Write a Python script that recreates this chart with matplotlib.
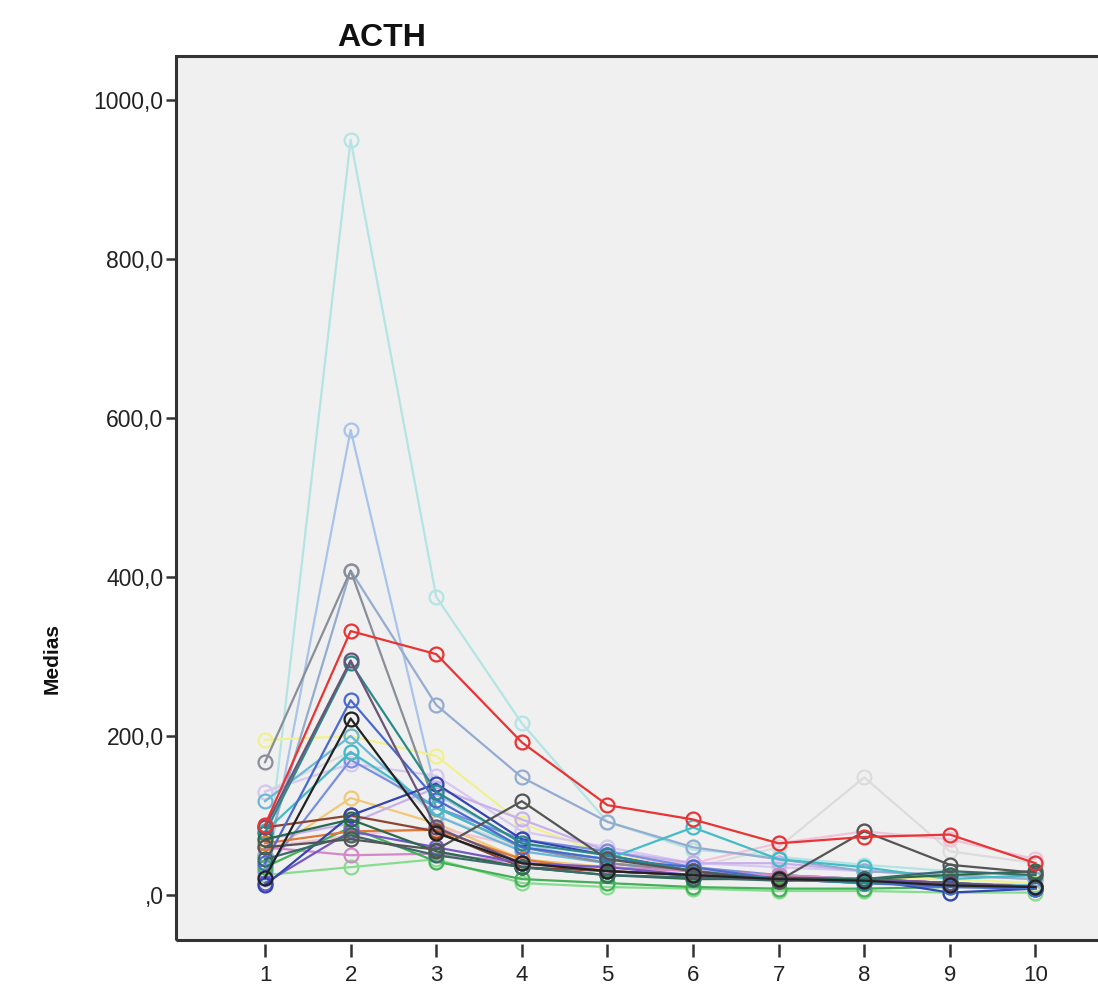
import matplotlib
matplotlib.use("Agg")
import matplotlib.pyplot as plt
from matplotlib.patches import Rectangle

plt.rcParams['font.family'] = ['Liberation Sans', 'DejaVu Sans']

# Time points on the x axis
time_points = [1, 2, 3, 4, 5, 6, 7, 8, 9, 10]
x_tick_labels = ['1', '2', '3', '4', '5', '6', '7', '8', '9', '10']
y_ticks = [0, 200, 400, 600, 800, 1000]
y_tick_labels = [',0', '200,0', '400,0', '600,0', '800,0', '1000,0']

# Mean ACTH per subject at each time point
s_pale_cyan = [15, 950, 375, 216, 92, 57, 48, 38, 30, 25]
s_light_blue = [20, 585, 127, 65, 40, 30, 25, 20, 15, 10]
s_gray = [167, 408, 110, 60, 40, 30, 20, 15, 12, 10]
s_steel = [50, 408, 239, 148, 92, 60, 45, 30, 25, 20]
s_red = [88, 332, 303, 192, 113, 95, 65, 73, 76, 40]
s_plum = [85, 295, 85, 40, 30, 25, 20, 18, 15, 10]
s_teal = [78, 292, 130, 65, 50, 30, 20, 15, 15, 10]
s_blue = [40, 245, 120, 60, 45, 35, 20, 15, 10, 8]
s_black = [22, 222, 78, 40, 30, 25, 20, 18, 12, 10]
s_dark_gray = [60, 70, 57, 118, 45, 30, 18, 80, 38, 28]
s_yellow = [195, 200, 175, 90, 50, 35, 25, 20, 20, 15]
s_apricot = [50, 122, 90, 45, 35, 30, 25, 20, 15, 10]
s_lavender = [130, 165, 150, 80, 60, 40, 35, 30, 25, 20]
s_sky = [118, 200, 100, 55, 40, 30, 25, 20, 15, 12]
s_cornflower = [30, 170, 110, 70, 55, 35, 25, 20, 15, 10]
s_light_green = [25, 35, 45, 15, 10, 8, 5, 5, 3, 3]
s_pink = [60, 50, 52, 40, 35, 30, 25, 20, 15, 10]
s_forest = [70, 95, 55, 35, 25, 20, 20, 20, 25, 30]
s_dark_teal = [45, 75, 50, 35, 25, 22, 18, 20, 30, 25]
s_green = [35, 85, 42, 20, 15, 10, 8, 8, 10, 10]
s_purple = [15, 80, 60, 40, 35, 25, 20, 20, 15, 10]
s_lilac = [70, 90, 135, 95, 55, 40, 40, 30, 25, 20]
s_orange = [65, 80, 82, 45, 30, 25, 20, 18, 15, 10]
s_cyan = [80, 180, 110, 60, 45, 85, 45, 35, 20, 25]
s_silver = [130, 180, 100, 60, 40, 35, 60, 148, 55, 40]
s_brown = [85, 100, 80, 35, 30, 25, 22, 20, 15, 8]
s_rose = [60, 75, 85, 60, 45, 40, 65, 80, 70, 45]
s_indigo = [12, 100, 140, 70, 50, 30, 18, 20, 3, 8]

series = [
    (s_silver, '#dcdcdc'),
    (s_pale_cyan, '#b4e4e4'),
    (s_light_blue, '#a8c4ea'),
    (s_yellow, '#f0f090'),
    (s_apricot, '#f0c878'),
    (s_lavender, '#d8c8f0'),
    (s_rose, '#f0c4d8'),
    (s_lilac, '#c8b0ec'),
    (s_light_green, '#88dc90'),
    (s_sky, '#6cb8d8'),
    (s_cornflower, '#7890e0'),
    (s_steel, '#94acd0'),
    (s_gray, '#8a8e98'),
    (s_pink, '#d488c8'),
    (s_green, '#44b058'),
    (s_cyan, '#44bcc8'),
    (s_orange, '#e07838'),
    (s_brown, '#8c4434'),
    (s_purple, '#7458c8'),
    (s_indigo, '#3444b0'),
    (s_blue, '#4a6ad0'),
    (s_teal, '#2a8a8a'),
    (s_forest, '#2a6a4a'),
    (s_dark_teal, '#3a6a6a'),
    (s_dark_gray, '#555555'),
    (s_plum, '#6a5478'),
    (s_red, '#e83434'),
    (s_black, '#222222'),
]

fig = plt.figure(figsize=(10.98, 9.85), dpi=100)
fig.patch.set_facecolor('white')
ax = fig.add_axes([0.1603, 0.0457, 0.8607, 0.8974])
ax.set_facecolor('#f0f0f0')

for values, color in series:
    ax.plot(time_points, values, color=color, linewidth=1.6,
            marker='o', markersize=10, markerfacecolor='none',
            markeredgecolor=color, markeredgewidth=1.6, zorder=3)

ax.set_xlim(-0.04, 11.0)
ax.set_ylim(-56.6, 1055.3)

# Frame drawn as a patch so the x tick marks can sit slightly apart from it
for side in ['top', 'right', 'left']:
    ax.spines[side].set_visible(False)
ax.spines['bottom'].set_visible(False)
ax.spines['bottom'].set_position(('outward', 3))
ax.add_patch(Rectangle((0, 0), 1, 1, transform=ax.transAxes, fill=False,
                       edgecolor='#333333', linewidth=2.2, zorder=5,
                       clip_on=False))

ax.set_xticks(time_points)
ax.set_xticklabels(x_tick_labels)
ax.set_yticks(y_ticks)
ax.set_yticklabels(y_tick_labels)
ax.tick_params(axis='x', direction='out', length=9, width=1.8,
               color='#333333', labelsize=16, pad=6, labelcolor='#222222')
ax.tick_params(axis='y', direction='out', length=7, width=1.8,
               color='#333333', labelsize=16.5, pad=2, labelcolor='#222222')

fig.text(382 / 1098, 1 - 38 / 985, 'ACTH', fontsize=23, fontweight='bold',
         ha='center', va='center', color='#111111')
fig.text(52 / 1098, 1 - 658 / 985, 'Medias', fontsize=15, fontweight='bold',
         rotation=90, ha='center', va='center', color='#111111')

fig.savefig('out.png', dpi=100)
